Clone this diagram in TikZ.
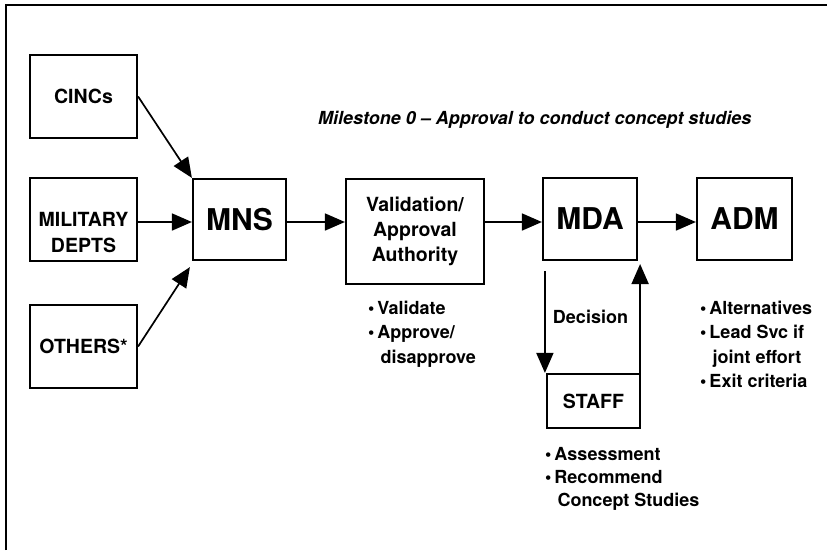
\documentclass[tikz,border=0pt]{standalone}
\usepackage{fontspec}
\setmainfont{TeX Gyre Heros}
\usetikzlibrary{arrows.meta,calc}
\newcommand\bul{\textbullet\,}
\newcommand\bulind{\hphantom{\bul}\hspace{3pt}}
\begin{document}
\begin{tikzpicture}[x=1pt,y=-1pt,
 box/.style={draw,line width=2.2pt,inner sep=0pt,align=center,font=\bfseries\fontsize{19.5}{26}\selectfont},
 big/.style={font=\bfseries\fontsize{30}{36}\selectfont},
 arr/.style={line width=1.7pt,-{Triangle[length=20pt,width=17pt]}},
 note/.style={anchor=north west,inner sep=0pt,align=left,font=\bfseries\fontsize{18}{24.3}\selectfont},
 lbl/.style={inner sep=0pt,align=center,font=\bfseries\fontsize{19.5}{26}\selectfont}]
\useasboundingbox (0,0) rectangle (827,550);
\draw[line width=2pt] (6,550) -- (6,5) -- (827,5);

\node[box,minimum width=107pt,minimum height=83pt] (cincs) at (83.5,96.5) {CINCs};
\node[box,minimum width=107pt,minimum height=83pt] (mil) at (83.5,219.5) {};
\node[lbl] (miltext) at (83.5,233) {MILITARY\\DEPTS};
\node[box,minimum width=107pt,minimum height=83pt] (oth) at (83.5,346.5) {OTHERS*};
\node[box,big,minimum width=93pt,minimum height=81pt] (mns) at (239.5,219.5) {MNS};
\node[box,minimum width=138pt,minimum height=105pt,font=\bfseries\fontsize{19.5}{25}\selectfont] (val) at (415,231.5) {Validation/\\Approval\\Authority};
\node[box,big,minimum width=94pt,minimum height=82pt] (mda) at (590,219) {MDA};
\node[box,big,minimum width=95pt,minimum height=82pt] (adm) at (744.5,219) {ADM};
\node[box,minimum width=93pt,minimum height=54pt] (staff) at (593.5,401) {STAFF};

\node[anchor=base west,inner sep=0pt,font=\bfseries\itshape\fontsize{18}{22}\selectfont] (ms) at (318,124) {Milestone 0 -- Approval to conduct concept studies};

\node[lbl,font=\bfseries\fontsize{18}{22}\selectfont] (dec) at (590.5,316.5) {Decision};

\node[note] (valnote) at (368,301) {\bul Validate\\\bul Approve/\\\bulind disapprove};
\node[note] (admnote) at (700,301) {\bul Alternatives\\\bul Lead Svc if\\\bulind joint effort\\\bul Exit criteria};
\node[note,font=\bfseries\fontsize{18}{23}\selectfont] (staffnote) at (545,447) {\bul Assessment\\\bul Recommend\\\bulind Concept Studies};

\draw[arr] (cincs.east) -- (mns.north west);
\draw[arr] (mil.east |- 0,222) -- (mns.west |- 0,222);
\draw[arr] (oth.east) -- ($(mns.south west)+(-2,6)$);
\draw[arr] (mns.east |- 0,222) -- (val.west |- 0,222);
\draw[arr] (val.east |- 0,222) -- (mda.west |- 0,222);
\draw[arr] (mda.east |- 0,222) -- (adm.west |- 0,222);
\coordinate (dtop) at ($(mda.south west)+(3,10)$);
\draw[arr] (dtop) -- (dtop |- staff.north);
\coordinate (ubot) at ($(staff.north east)+(-1,0)$);
\draw[arr] (ubot) -- (ubot |- 0,264);
\end{tikzpicture}
\end{document}
